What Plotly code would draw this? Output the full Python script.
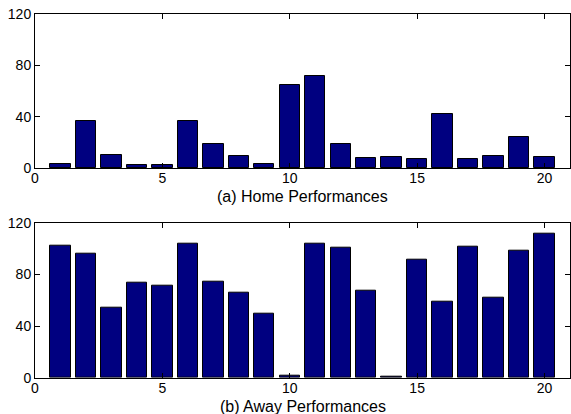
import plotly.graph_objects as go

games = list(range(1, 21))
home_values = [3.4, 37, 10, 2, 2.5, 37, 19, 9.7, 2.9, 64.7, 71.8, 18.8, 8, 8.4, 7, 42, 6.8, 9.7, 24.3, 8.6]
away_values = [102.2, 95.7, 54.2, 73.3, 71, 104, 74, 65.5, 49.8, 1.3, 103.7, 100.6, 67.4, 0.8, 91.6, 58.6, 101.4, 62, 98, 111.2]
x_ticks = [0, 5, 10, 15, 20]
y_ticks = [0, 40, 80, 120]
captions = ["(a) Home Performances", "(b) Away Performances"]

W, H = 571, 414
FONT = "Liberation Sans, Arial, Helvetica, sans-serif"
BAR_COLOR = "#000080"

fig = go.Figure()
fig.add_trace(go.Bar(x=games, y=home_values, width=0.8, marker=dict(color=BAR_COLOR, line=dict(color="black", width=1)),
                     xaxis="x", yaxis="y", showlegend=False))
fig.add_trace(go.Bar(x=games, y=away_values, width=0.8, marker=dict(color=BAR_COLOR, line=dict(color="black", width=1)),
                     xaxis="x2", yaxis="y2", showlegend=False))

def px_to_dom_y(top, bottom):
    return [1 - bottom / H, 1 - top / H]

xdom = [35 / W, 570 / W]
axis_common = dict(showline=True, linecolor="black", linewidth=1, mirror="ticks", ticks="inside",
                   ticklen=5, tickcolor="black", showgrid=False, zeroline=False, automargin=False,
                   tickfont=dict(family=FONT, size=14, color="black"))
xaxis_extra = dict(ticklabelstandoff=-3)

fig.update_layout(
    width=W, height=H, margin=dict(l=0, r=0, t=0, b=0),
    paper_bgcolor="white", plot_bgcolor="white",
    bargap=0,
    xaxis=dict(domain=xdom, range=[0, 21], tickvals=x_ticks, anchor="y", **axis_common, **xaxis_extra),
    yaxis=dict(domain=px_to_dom_y(14, 168), range=[0, 120], tickvals=y_ticks, anchor="x", **axis_common),
    xaxis2=dict(domain=xdom, range=[0, 21], tickvals=x_ticks, anchor="y2", **axis_common, **xaxis_extra),
    yaxis2=dict(domain=px_to_dom_y(222.7, 377.7), range=[0, 120], tickvals=y_ticks, anchor="x2", **axis_common),
    annotations=[
        dict(text=captions[0], xref="paper", yref="paper", x=(xdom[0] + xdom[1]) / 2, y=1 - 196 / H,
             xanchor="center", yanchor="middle", showarrow=False, font=dict(family=FONT, size=16, color="black")),
        dict(text=captions[1], xref="paper", yref="paper", x=(xdom[0] + xdom[1]) / 2, y=1 - 406 / H,
             xanchor="center", yanchor="middle", showarrow=False, font=dict(family=FONT, size=16, color="black")),
    ],
)

fig.write_html("out.html", config={"displayModeBar": False},
               post_script="document.body.style.margin='0';document.body.style.overflow='hidden';")
